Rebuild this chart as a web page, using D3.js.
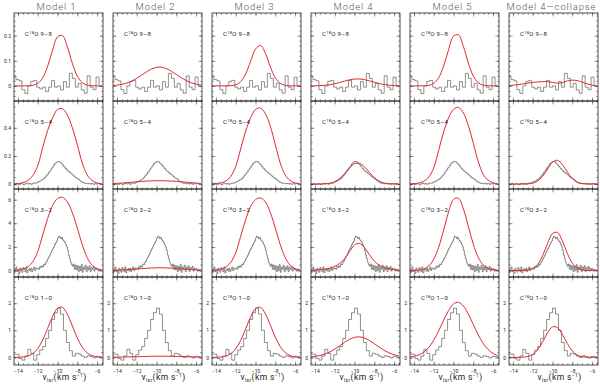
<!DOCTYPE html>
<html>
<head>
<meta charset="utf-8">
<script src="https://cdn.jsdelivr.net/npm/d3@7"></script>
<style>
body { margin: 0; background: #fff; }
svg { display: block; }
text { font-family: Roboto, "DejaVu Sans", sans-serif; fill: #222; }
</style>
</head>
<body>
<svg id="chart" width="600" height="388"></svg>
<script>

// column titles and the line in each row
const models = ["Model  1", "Model  2", "Model  3", "Model  4", "Model  5", "Model 4\u2014collapse"];
const transitions = ["9\u20138", "5\u20134", "3\u20132", "1\u20130"];

// velocity axis
const xDomain = [-14.4, -5.4];
const xTicks = [-14, -12, -10, -8, -6];

// y axis per row
const yDomains = [[-0.06, 0.29], [-0.035, 0.59], [-0.55, 6.9], [-0.28, 2.97]];
const yTicks = [[0, 0.1, 0.2], [0, 0.2, 0.4], [0, 2, 4, 6], [0, 1, 2]];
const yMinorStep = [0.02, 0.05, 0.5, 0.2];

// observed spectra (same in every column): first channel edge and channel width
const obsStart = [-14.5, -14.5, -14.5, -14.5];
const obsWidth = [0.3, 0.15, 0.1, 0.3];

const obs98 = [0.04, 0.025, 0.02, -0.015, -0.03, 0.0, 0.018, 0.022, -0.005, -0.012,
               -0.005, -0.022, -0.005, 0.022, -0.005, 0.0, -0.016, 0.017, -0.005, 0.05,
               0.03, -0.005, 0.01, -0.016, -0.029, 0.04, -0.005, -0.015, 0.035, 0.0];

const obs54 = [0.003, -0.004, 0.005, 0.0, -0.003, 0.004, 0.0, -0.005, 0.003, 0.006,
               0.0, 0.004, -0.002, 0.005, 0.008, 0.006, 0.012, 0.018, 0.022, 0.03,
               0.035, 0.045, 0.058, 0.07, 0.085, 0.1, 0.115, 0.13, 0.145, 0.155,
               0.16, 0.158, 0.15, 0.138, 0.125, 0.112, 0.1, 0.09, 0.082, 0.072,
               0.065, 0.055, 0.045, 0.04, 0.032, 0.022, 0.015, 0.01, 0.005, 0.006,
               0.002, 0.005, 0.0, 0.004, -0.002, 0.003, 0.0, 0.004, 0.001, 0.003];

const obs32 = [0.1, -0.2, 0.15, 0.3, -0.1, 0.05, -0.25, 0.2, 0.0, -0.15,
               0.25, 0.1, -0.1, 0.3, -0.2, 0.05, 0.15, -0.05, 0.2, -0.1,
               0.1, 0.3, 0.0, 0.2, 0.15,
               0.2, 0.1, 0.35, 0.25, 0.4, 0.3, 0.55, 0.5, 0.7, 0.8,
               1.0, 1.15, 1.3, 1.5, 1.7, 1.85, 2.0, 2.2, 2.35, 2.5,
               2.75, 2.9, 2.85, 2.7, 2.8, 2.6, 2.5, 2.4, 2.2, 2.0,
               1.7, 1.3, 1.0, 0.7, 0.5, 0.35, 0.55, 0.1, 0.45, 0.05,
               0.4, -0.1, 0.35, 0.0, 0.5, -0.15, 0.3, 0.1, 0.45, -0.1,
               0.3, 0.05, 0.4, -0.1, 0.25, 0.1, 0.35, -0.05, 0.2, 0.1,
               0.15, -0.05, 0.1, 0.0, 0.05];

const obs10 = [0.12, 0.12, -0.04, -0.1, 0.05, 0.3, 0.15, -0.1, 0.1, 0.27,
               0.4, 0.7, 1.0, 1.4, 1.65, 1.82, 1.6, 1.0, 0.55, 0.25,
               0.05, 0.15, 0.12, 0.05, 0.0, 0.06, 0.03, -0.02, 0.04, 0.02];

// model spectra, sampled at these velocities
const modelVel = [-14.5, -14, -13.5, -13, -12.5, -12, -11.5, -11, -10.5, -10,
                  -9.5, -9, -8.5, -8, -7.5, -7, -6.5, -6, -5.5];

const model98 = [
  [0, 0, 0, 0.0004, 0.0023, 0.0099, 0.032, 0.078, 0.142, 0.195, 0.2, 0.155, 0.09, 0.039, 0.0128, 0.0031, 0.0006, 0, 0],
  [0.0014, 0.0031, 0.0062, 0.0114, 0.0193, 0.03, 0.0428, 0.056, 0.0671, 0.0739, 0.0745, 0.0689, 0.0585, 0.0455, 0.0325, 0.0213, 0.0128, 0.007, 0.0035],
  [0, 0, 0, 0.0001, 0.0008, 0.0043, 0.0167, 0.0472, 0.0974, 0.1464, 0.161, 0.1293, 0.0757, 0.0324, 0.0101, 0.0023, 0.0004, 0, 0],
  [0.0002, 0.0004, 0.0011, 0.0024, 0.0048, 0.0085, 0.0134, 0.0191, 0.0242, 0.0274, 0.0277, 0.0251, 0.0202, 0.0146, 0.0094, 0.0054, 0.0028, 0.0013, 0.0005],
  [0, 0, 0.0001, 0.0004, 0.0023, 0.01, 0.0324, 0.079, 0.1441, 0.1976, 0.2032, 0.157, 0.0911, 0.0397, 0.013, 0.0032, 0.0006, 0, 0],
  [0.001, 0.003, 0.005, 0.008, 0.011, 0.014, 0.016, 0.017, 0.017, 0.014, 0.011, 0.013, 0.02, 0.023, 0.021, 0.015, 0.008, 0.003, 0.001]
];

const model54 = [
  [0.002, 0.004, 0.01, 0.025, 0.06, 0.13, 0.26, 0.38, 0.47, 0.53, 0.535, 0.49, 0.4, 0.28, 0.15, 0.065, 0.025, 0.008, 0.003],
  [0.003, 0.005, 0.007, 0.01, 0.013, 0.016, 0.019, 0.021, 0.023, 0.024, 0.024, 0.023, 0.021, 0.019, 0.016, 0.013, 0.01, 0.007, 0.005],
  [0.002, 0.004, 0.009, 0.022, 0.055, 0.125, 0.25, 0.375, 0.47, 0.53, 0.54, 0.5, 0.41, 0.28, 0.15, 0.065, 0.025, 0.008, 0.003],
  [0, 0.0001, 0.0004, 0.0017, 0.0061, 0.0171, 0.0398, 0.075, 0.1155, 0.1446, 0.1476, 0.1227, 0.0831, 0.0459, 0.0206, 0.0075, 0.0023, 0.0006, 0.0001],
  [0.002, 0.003, 0.008, 0.02, 0.05, 0.115, 0.24, 0.37, 0.47, 0.53, 0.545, 0.505, 0.415, 0.29, 0.16, 0.07, 0.027, 0.009, 0.003],
  [0, 0, 0, 0.0002, 0.0014, 0.0063, 0.0214, 0.0553, 0.1069, 0.155, 0.169, 0.1384, 0.085, 0.0393, 0.0136, 0.0035, 0.0007, 0.0001, 0]
];

const model32 = [
  [0.02, 0.05, 0.12, 0.3, 0.75, 1.6, 3.0, 4.4, 5.5, 6.1, 6.2, 5.8, 4.9, 3.6, 2.2, 1.1, 0.45, 0.15, 0.05],
  [0.02, 0.03, 0.05, 0.07, 0.1, 0.13, 0.16, 0.19, 0.21, 0.23, 0.23, 0.22, 0.2, 0.17, 0.14, 0.11, 0.08, 0.05, 0.03],
  [0.02, 0.05, 0.11, 0.28, 0.7, 1.5, 2.9, 4.3, 5.4, 6.0, 6.15, 5.8, 4.9, 3.6, 2.2, 1.1, 0.45, 0.15, 0.05],
  [0.02, 0.04, 0.07, 0.12, 0.2, 0.35, 0.6, 1.0, 1.6, 2.15, 2.3, 1.95, 1.35, 0.8, 0.45, 0.25, 0.13, 0.07, 0.04],
  [0.002, 0.009, 0.038, 0.132, 0.389, 0.955, 1.97, 3.41, 4.95, 6.01, 6.11, 5.21, 3.73, 2.23, 1.12, 0.47, 0.166, 0.049, 0.012],
  [0, 0, 0.001, 0.006, 0.037, 0.158, 0.515, 1.254, 2.287, 3.135, 3.224, 2.492, 1.445, 0.63, 0.206, 0.05, 0.009, 0.001, 0]
];

const model10 = [
  [0.001, 0.004, 0.016, 0.052, 0.14, 0.326, 0.642, 1.07, 1.515, 1.816, 1.846, 1.59, 1.163, 0.72, 0.379, 0.169, 0.064, 0.02, 0.006],
  [0.01, 0.012, 0.015, 0.018, 0.022, 0.027, 0.032, 0.037, 0.041, 0.044, 0.045, 0.043, 0.04, 0.035, 0.03, 0.025, 0.02, 0.016, 0.012],
  [0.001, 0.004, 0.015, 0.05, 0.135, 0.315, 0.625, 1.05, 1.49, 1.8, 1.85, 1.61, 1.19, 0.75, 0.4, 0.18, 0.07, 0.022, 0.007],
  [0.017, 0.036, 0.069, 0.123, 0.202, 0.307, 0.43, 0.558, 0.669, 0.741, 0.759, 0.718, 0.628, 0.508, 0.38, 0.262, 0.167, 0.099, 0.054],
  [0.016, 0.04, 0.094, 0.196, 0.372, 0.636, 0.982, 1.371, 1.732, 1.975, 2.036, 1.897, 1.597, 1.216, 0.835, 0.52, 0.292, 0.148, 0.068],
  [0, 0, 0.002, 0.008, 0.034, 0.112, 0.286, 0.575, 0.909, 1.128, 1.102, 0.845, 0.509, 0.242, 0.09, 0.026, 0.006, 0.001, 0]
];

const observed = [obs98, obs54, obs32, obs10];
const modelled = [model98, model54, model32, model10];

// layout

const svg = d3.select("#chart");

const padLeft = 14, padTop = 13;
const pw = 89, ph = 88;
const colStep = 99;

const x = d3.scaleLinear().domain(xDomain).range([0, pw]);

// column titles
models.forEach((m, c) => {
    svg.append("text")
        .attr("x", padLeft + c * colStep + pw / 2 - 2)
        .attr("y", 10)
        .attr("text-anchor", "middle")
        .attr("font-size", 9.5)
        .attr("letter-spacing", 0.9)
        .style("font-weight", 300)
        .style("fill", "#555")
        .text(m);
});

function stepPoints(vals, start, width)
{
    const pts = vals.map((v, i) => [start + i * width, v]);
    pts.push([start + vals.length * width, vals[vals.length - 1]]);
    return pts;
}

for (let r = 0; r < 4; ++r)
{
    const y = d3.scaleLinear().domain(yDomains[r]).range([ph, 0]);
    const yMinor = d3.range(Math.ceil(yDomains[r][0] / yMinorStep[r]) * yMinorStep[r], yDomains[r][1], yMinorStep[r]);
    const xMinor = d3.range(-14, -5.4, 0.5);

    const hist = d3.line()
        .x(d => x(d[0]))
        .y(d => y(d[1]))
        .curve(d3.curveStepAfter);

    const smooth = d3.line()
        .x((d, i) => x(modelVel[i]))
        .y(d => y(d))
        .curve(d3.curveCatmullRom);

    for (let c = 0; c < 6; ++c)
    {
        const g = svg.append("g")
            .attr("transform", `translate(${padLeft + c * colStep},${padTop + r * ph})`);

        const clipId = `clip-${r}-${c}`;
        g.append("clipPath").attr("id", clipId)
            .append("rect").attr("width", pw).attr("height", ph);

        const inner = g.append("g").attr("clip-path", `url(#${clipId})`);

        inner.append("path")
            .datum(stepPoints(observed[r], obsStart[r], obsWidth[r]))
            .attr("d", hist)
            .attr("fill", "none")
            .attr("stroke", "#444")
            .attr("stroke-width", 0.6);

        inner.append("path")
            .datum(modelled[r][c])
            .attr("d", smooth)
            .attr("fill", "none")
            .attr("stroke", "#e3262f")
            .attr("stroke-width", 1);

        // ticks on all four sides, pointing inwards
        g.append("g").attr("transform", `translate(0,${ph})`)
            .call(d3.axisBottom(x).tickValues(xTicks).tickSizeInner(-3.5).tickSizeOuter(0)
                .tickPadding(r === 3 ? 4 : 0).tickFormat(r === 3 ? (d => "\u2212" + Math.abs(d)) : ""));
        g.append("g").attr("transform", `translate(0,${ph})`)
            .call(d3.axisBottom(x).tickValues(xMinor).tickSizeInner(-1.8).tickSizeOuter(0).tickFormat(""));
        g.append("g")
            .call(d3.axisTop(x).tickValues(xTicks).tickSizeInner(-3.5).tickSizeOuter(0).tickFormat(""));
        g.append("g")
            .call(d3.axisTop(x).tickValues(xMinor).tickSizeInner(-1.8).tickSizeOuter(0).tickFormat(""));

        const showY = (c === 0 || r === 3);
        g.append("g")
            .call(d3.axisLeft(y).tickValues(yTicks[r]).tickSizeInner(-3.5).tickSizeOuter(0)
                .tickPadding(3).tickFormat(showY ? (d => d) : ""));
        g.append("g")
            .call(d3.axisLeft(y).tickValues(yMinor).tickSizeInner(-1.8).tickSizeOuter(0).tickFormat(""));
        g.append("g").attr("transform", `translate(${pw},0)`)
            .call(d3.axisRight(y).tickValues(yTicks[r]).tickSizeInner(-3.5).tickSizeOuter(0).tickFormat(""));
        g.append("g").attr("transform", `translate(${pw},0)`)
            .call(d3.axisRight(y).tickValues(yMinor).tickSizeInner(-1.8).tickSizeOuter(0).tickFormat(""));

        g.selectAll(".domain").remove();
        g.selectAll(".tick line").attr("stroke", "#333").attr("stroke-width", 0.5);
        g.selectAll(".tick text").attr("font-size", 5).attr("font-family", "Roboto, DejaVu Sans").style("fill", "#222");

        g.append("rect")
            .attr("width", pw).attr("height", ph)
            .attr("fill", "none")
            .attr("stroke", "#222")
            .attr("stroke-width", 0.8);

        // line label
        const lab = g.append("text")
            .attr("x", 11)
            .attr("y", 23)
            .attr("font-size", 6)
            .attr("letter-spacing", 0.3);
        lab.append("tspan").text("C");
        lab.append("tspan").attr("dy", -2.5).attr("font-size", 4).text("18");
        lab.append("tspan").attr("dy", 2.5).text("O " + transitions[r]);

        // axis title under the bottom row
        if (r === 3)
        {
            const t = g.append("text")
                .attr("x", pw / 2 + 6)
                .attr("y", ph + 15)
                .attr("text-anchor", "middle")
                .attr("font-size", 8.5)
                .attr("letter-spacing", 0.4);
            t.append("tspan").text("v");
            t.append("tspan").attr("dy", 1.5).attr("font-size", 5).text("lsr");
            t.append("tspan").attr("dy", -1.5).text("(km  s");
            t.append("tspan").attr("dy", -3).attr("font-size", 5).text("\u22121");
            t.append("tspan").attr("dy", 3).text(")");
        }
    }
}

</script>
</body>
</html>
